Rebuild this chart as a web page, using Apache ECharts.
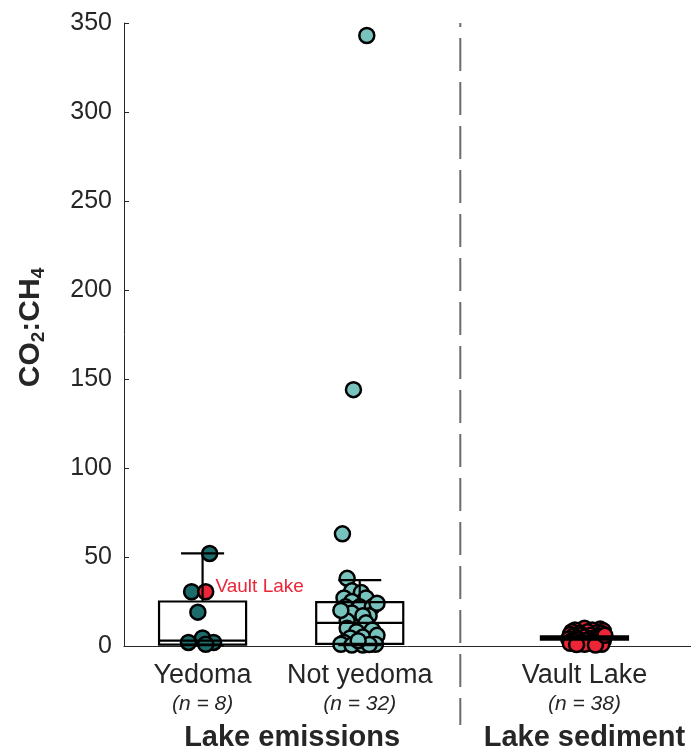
<!DOCTYPE html>
<html><head><meta charset="utf-8">
<script src="https://cdn.jsdelivr.net/npm/echarts@6/dist/echarts.min.js"></script>
<style>html,body{margin:0;padding:0;background:#fff}#c{width:691px;height:750px}</style>
</head><body><div id="c"></div>
<script>
// ---- data ----
const categories = ['Yedoma', 'Not yedoma', 'Vault Lake'];
const categoryX = [1, 2, 3.43];
const sampleCounts = ['(n = 8)', '(n = 32)', '(n = 38)'];
const groupTitles = ['Lake emissions', 'Lake sediment'];
const groupTitleX = [1.57, 3.43];
const dividerX = 2.64;
const yTicks = [0, 50, 100, 150, 200, 250, 300, 350];

const yedomaValues = [52, 30.5, 19, 4.5, 2, 2, 1];
const yedomaJitter = [0.045, -0.07, -0.03, 0, -0.09, 0.07, 0.02];
const yedomaVaultValue = [30.5];
const yedomaVaultJitter = [0.02];

const notYedomaValues = [343, 144, 63, 38, 31, 30, 27, 25, 27, 22, 22, 22, 18.5, 17, 17, 14,
  13, 10, 8, 9, 5, 4.5, 6, 2, 1, 0.5, 0.5, 1, 0.8, 3, 20, 24];
const notYedomaJitter = [0.045, -0.04, -0.11, -0.08, -0.05, 0.01, -0.1, -0.05, 0.04, -0.09, 0, 0.08, -0.05, 0.06, 0.02, -0.08,
  0.04, -0.08, -0.02, 0.08, 0.02, -0.06, 0.11, -0.1, -0.12, -0.05, 0.02, 0.1, 0.06, -0.01, -0.12, 0.11];

const sedimentValues = [10, 9.5, 9, 9, 8.5, 8, 8, 7.5, 7, 7, 6.5, 6, 6, 5.5, 5.5, 5, 5, 4.5, 4.5,
  4, 4, 4, 3.5, 3.5, 3, 3, 3, 2.5, 2.5, 2, 2, 1.5, 1.5, 1, 1, 0.8, 0.5, 6];
const sedimentJitter = [0.0, 0.1, -0.06, 0.05, 0.12, -0.08, 0.02, 0.08, -0.03, 0.11, -0.09, 0.04, -0.02, 0.09, -0.07, 0.0, 0.12,
  -0.05, 0.06, -0.1, 0.03, 0.1, -0.04, 0.07, -0.08, 0.01, 0.12, -0.06, 0.05, -0.02, 0.09, -0.09, 0.04, 0.0, 0.11, -0.05, 0.07, 0.13];

// [min, q1, median, q3, max]
const boxStats = [
  [0.5, 0.8, 3, 25, 52],
  [0.5, 1.2, 13, 24.7, 37],
  [4.5, 3.6, 4.5, 5.4, 4.5]
];

// ---- chart ----
const FONT = 'Liberation Sans, Arial, Helvetica, sans-serif';
const chart = echarts.init(document.getElementById('c'), null, {renderer: 'canvas'});
const boxHalf = 0.277, capHalf = 0.137;

function jittered(vals, jit, x) { return vals.map((v, i) => [x + jit[i], v]); }

function renderBox(params, api) {
  const x = api.value(0);
  const mn = api.value(1), q1 = api.value(2), md = api.value(3), q3 = api.value(4), mx = api.value(5);
  const L = api.coord([x - boxHalf, 0])[0], R = api.coord([x + boxHalf, 0])[0];
  const cL = api.coord([x - capHalf, 0])[0], cR = api.coord([x + capHalf, 0])[0];
  const cx = api.coord([x, 0])[0];
  const y = v => api.coord([x, v])[1];
  const st = {stroke: '#000', lineWidth: 2.2, fill: null};
  const ch = [];
  ch.push({type: 'rect', shape: {x: L, y: y(q3), width: R - L, height: y(q1) - y(q3)}, style: st});
  ch.push({type: 'line', shape: {x1: L, y1: y(md), x2: R, y2: y(md)}, style: st});
  if (mx > q3) {
    ch.push({type: 'line', shape: {x1: cx, y1: y(q3), x2: cx, y2: y(mx)}, style: st});
    ch.push({type: 'line', shape: {x1: cL, y1: y(mx), x2: cR, y2: y(mx)}, style: st});
  }
  if (mn < q1) {
    ch.push({type: 'line', shape: {x1: cx, y1: y(q1), x2: cx, y2: y(mn)}, style: st});
    ch.push({type: 'line', shape: {x1: cL, y1: y(mn), x2: cR, y2: y(mn)}, style: st});
  }
  return {type: 'group', children: ch};
}

const pointStyle = c => ({color: c, borderColor: '#000', borderWidth: 2.5, opacity: 1});
const SYM = 15;

const option = {
  animation: false,
  grid: {left: 124, right: 0, top: 23, bottom: 104},
  xAxis: {
    type: 'value', min: 0.5, max: 4.108,
    axisLine: {show: true, onZero: false, lineStyle: {color: '#262626', width: 1}},
    axisTick: {show: false}, axisLabel: {show: false}, splitLine: {show: false}
  },
  yAxis: {
    type: 'value', min: yTicks[0], max: yTicks[yTicks.length - 1], interval: 50,
    name: '{a|CO}{s|2}{a|:CH}{s|4}',
    nameLocation: 'middle', nameRotate: 90, nameGap: 76,
    nameTextStyle: {
      padding: [0, 0, 0, 14],
      rich: {
        a: {fontFamily: FONT, fontSize: 30, fontWeight: 'bold', color: '#262626', lineHeight: 35, verticalAlign: 'middle'},
        s: {fontFamily: FONT, fontSize: 19, fontWeight: 'bold', color: '#262626', lineHeight: 19, verticalAlign: 'bottom'}
      }
    },
    axisLine: {show: true, lineStyle: {color: '#262626', width: 1}},
    axisTick: {show: true, inside: true, length: 5, lineStyle: {color: '#262626'}},
    axisLabel: {fontFamily: FONT, fontSize: 25, color: '#262626', margin: 12},
    splitLine: {show: false}
  },
  series: [
    {type: 'scatter', data: jittered(yedomaValues, yedomaJitter, categoryX[0]), symbolSize: SYM,
      itemStyle: pointStyle('#1d6c6c'), z: 2},
    {type: 'scatter', data: jittered(yedomaVaultValue, yedomaVaultJitter, categoryX[0]), symbolSize: SYM,
      itemStyle: pointStyle('#ec2537'), z: 2,
      label: {show: true, position: 'right', distance: 1, offset: [0, -5], formatter: 'Vault Lake',
        fontFamily: FONT, fontSize: 19, color: '#ec2537'}},
    {type: 'scatter', data: jittered(notYedomaValues, notYedomaJitter, categoryX[1]), symbolSize: SYM,
      itemStyle: pointStyle('#78c3bd'), z: 2},
    {type: 'scatter', data: jittered(sedimentValues, sedimentJitter, categoryX[2]), symbolSize: SYM,
      itemStyle: pointStyle('#ec2537'), z: 2},
    {type: 'custom', renderItem: renderBox, clip: false, z: 10, silent: true,
      data: boxStats.map((s, i) => [categoryX[i]].concat(s)),
      encode: {x: 0, y: [1, 2, 3, 4, 5]}}
  ]
};
chart.setOption(option);

// labels and divider positioned through the axis scale
const px = (x, y) => chart.convertToPixel({gridIndex: 0}, [x, y]);
const axisY = px(1, 0)[1];
const topY = px(1, yTicks[yTicks.length - 1])[1];
const graphics = [];
categories.forEach((c, i) => {
  const x = px(categoryX[i], 0)[0];
  graphics.push({type: 'text', x: x, y: axisY + 30, style: {text: c, fontFamily: FONT, fontSize: 27, fill: '#262626', textAlign: 'center', textVerticalAlign: 'middle'}});
  graphics.push({type: 'text', x: x, y: axisY + 58, style: {text: sampleCounts[i], fontFamily: FONT, fontSize: 21, fontStyle: 'italic', fill: '#262626', textAlign: 'center', textVerticalAlign: 'middle'}});
});
groupTitles.forEach((t, i) => {
  const x = px(groupTitleX[i], 0)[0];
  graphics.push({type: 'text', x: x, y: axisY + 92, style: {text: t, fontFamily: FONT, fontSize: 29, fontWeight: 'bold', fill: '#262626', textAlign: 'center', textVerticalAlign: 'middle'}});
});
const dx = px(dividerX, 0)[0];
graphics.push({type: 'line', shape: {x1: dx, y1: topY, x2: dx, y2: axisY + 79}, z: 10,
  style: {stroke: '#6b6b6b', lineWidth: 2, lineDash: [33, 11], lineDashOffset: 29}});
chart.setOption({graphic: graphics});
</script>
</body></html>
